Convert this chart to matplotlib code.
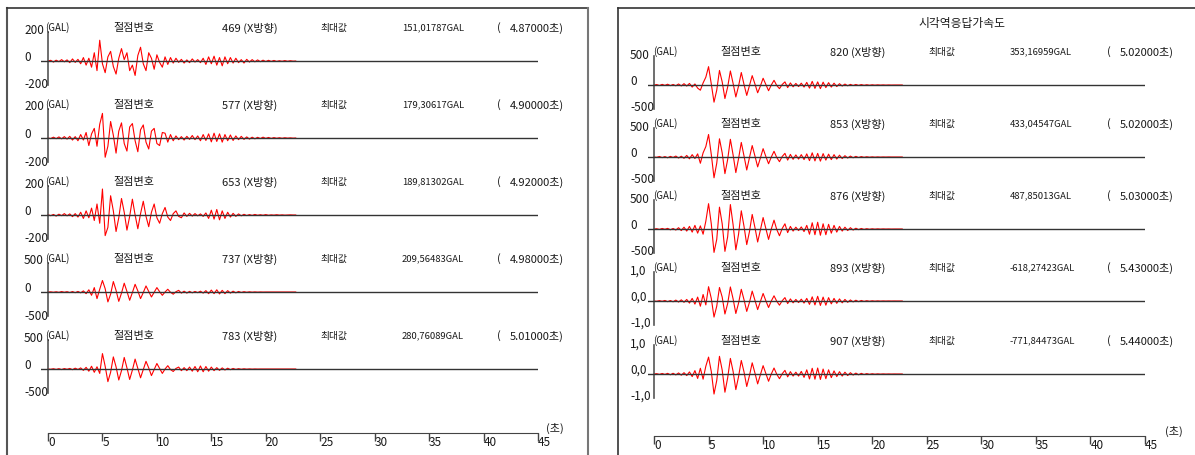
import numpy as np
import matplotlib
matplotlib.use('Agg')
import matplotlib.pyplot as plt
from matplotlib.transforms import blended_transform_factory, offset_copy
from matplotlib.lines import Line2D

plt.rcParams['font.family'] = ['Noto Sans CJK KR', 'DejaVu Sans']

W, H = 1195, 455
DT = 0.25  # sampling interval of the listed values (s)

# ---------------- data ----------------
time_ticks = [0, 5, 10, 15, 20, 25, 30, 35, 40, 45]
right_title = '시각역응답가속도'

left_nodes = ['469', '577', '653', '737', '783']
left_maxval = ['151,01787GAL', '179,30617GAL', '189,81302GAL', '209,56483GAL', '280,76089GAL']
left_maxtime = ['4.87000초)', '4.90000초)', '4.92000초)', '4.98000초)', '5.01000초)']
left_tick_vals = [[200, 0, -200], [200, 0, -200], [200, 0, -200], [500, 0, -500], [500, 0, -500]]
left_tick_labels = [['200', '0', '-200'], ['200', '0', '-200'], ['200', '0', '-200'],
                    ['500', '0', '-500'], ['500', '0', '-500']]

right_nodes = ['820', '853', '876', '893', '907']
right_maxval = ['353,16959GAL', '433,04547GAL', '487,85013GAL', '-618,27423GAL', '-771,84473GAL']
right_maxtime = ['5.02000초)', '5.02000초)', '5.03000초)', '5.43000초)', '5.44000초)']
right_tick_vals = [[500, 0, -500], [500, 0, -500], [500, 0, -500], [1000, 0, -1000], [1000, 0, -1000]]
right_tick_labels = [['500', '0', '-500'], ['500', '0', '-500'], ['500', '0', '-500'],
                     ['1,0', '0,0', '-1,0'], ['1,0', '0,0', '-1,0']]

# acceleration (GAL), every 0.25 s from 0 s
acc_469 = [0, 5, -8, 6, -5, 10, -6, 8, -12, 15, -10, 12,
           -20, 25, -30, 20, -45, 60, -70,
           151, -20, -85, 30, 70, -40, -95, 20, 90, 10, 60, -70, -30, -105, 40, 100, -20, -70, 60, 20,
           -60, 45, -10, -45, 30, -25, 25, -15, 20, -10,
           12, -15, 8, -12, 15, -8, 10, -12, 20, -25, 30, -20, 35, -30, 25, -35, 30, -20, 25, -15,
           20, -12, 10, -15, 12, -8, 10, -6, 8, -5, 6, -4, 5, -3, 4, -3, 2, -2, 3, -2, 2, -1, 0]
acc_577 = [0, -4, 6, -5, 8, -6, 10, -8, 12, -15, 10, -20,
           25, -15, 40, -55, 30, 70, -60,
           100, 179, -140, -60, 120, 20, -110, 50, 110, -40, -95, 80, 105, -20, -100, 60, 95, -30, -80, 50,
           70, -40, -55, 40, 35, -30, 25, -20, 15, -12,
           10, -15, 12, -10, 18, -12, 15, -20, 25, -18, 30, -28, 35, -25, 30, -30, 25, -20, 22, -18,
           15, -12, 12, -10, 8, -8, 6, -6, 5, -4, 6, -3, 4, -3, 3, -2, 2, -2, 2, -1, 1, -1, 0]
acc_653 = [2, -5, 4, -8, 6, -5, 10, -6, 8, -12, 10, -15,
           20, -25, 30, -20, 50, -40, 80,
           -60, 189, -150, -90, 140, 30, -120, -20, 120, 20, -110, -10, 115, 0, -100, 10, 100, -10, -85, 20,
           80, -20, -60, 10, 55, -15, -40, 10, 30, -10,
           -20, 15, -10, 12, -8, 10, -6, 8, -10, 15, -25, 35, -30, 40, -35, 30, -25, 20, -15, 12,
           -10, 8, -6, 5, -4, 3, -3, 4, -2, 2, -2, 3, -2, 1, -1, 2, -1, 1, -1, 0, 1, 0, 0]
acc_737 = [0, 3, -5, 4, -6, 8, -5, 6, -10, 8, -12, 10,
           -15, 20, -30, 40, -60, 80, -120,
           50, 209, 60, -180, -40, 190, 30, -170, -20, 160, 10, -150, -10, 140, 20, -120, -10, 110, 10, -90,
           -5, 80, 5, -60, 0, 50, -5, -40, 5, 30,
           -20, 15, -20, 12, -15, 10, -12, 15, -20, 25, -30, 35, -30, 40, -35, 30, -30, 25, -20, 15,
           -15, 10, -8, 6, -5, 4, -3, 2, -2, 1, -1, 0, 0, 0, 0, 0, 0, 0, 0, 0, 0, 0, 0]
acc_783 = [0, -5, 5, -8, 6, -10, 8, -6, 10, -12, 15, -10,
           20, -25, 30, -40, 50, -60, 40,
           -80, 280, 50, -230, -60, 220, 40, -200, -30, 210, 20, -190, -20, 180, 10, -160, -10, 140, 20, -120,
           -10, 100, 10, -80, 0, 60, -10, -45, 10, 35,
           -30, 25, -30, 35, -40, 45, -50, 55, -50, 45, -40, 35, -30, 25, -25, 20, -18, 15, -12, 10,
           -8, 6, -5, 4, -3, 2, -2, 1, -1, 0, 0, 0, 0, 0, 0, 0, 0, 0, 0, 0, 0, 0, 0]
acc_820 = [0, 8, -10, 12, -8, 15, -12, 10, -15, 20, -18, 25,
           -20, 30, -40, 20, -60, -100, 40,
           150, 353, 20, -330, -100, 280, 60, -260, -40, 270, 30, -230, -20, 240, 10, -200, -10, 180, 20, -150,
           -20, 130, 10, -110, 0, 90, -10, -70, 10, 60,
           -50, 40, -35, 30, -30, 35, -40, 50, -60, 70, -65, 60, -70, 55, -50, 45, -40, 35, -30, 25,
           -20, 18, -15, 12, -10, 10, -8, 8, -6, 5, -5, 4, -3, 3, -2, 2, -2, 1, -1, 0, 0, 0, 0]
acc_853 = [0, -6, 10, -12, 8, -15, 12, -10, 18, -20, 15, -25,
           30, -35, 45, -30, 60, -120, 80,
           200, 433, 50, -400, -120, 350, 80, -320, -50, 340, 40, -300, -30, 280, 20, -250, -10, 220, 20, -190,
           -20, 160, 10, -130, 0, 110, -10, -90, 10, 70,
           -60, 50, -45, 40, -40, 45, -50, 60, -70, 80, -75, 70, -80, 65, -60, 55, -50, 45, -40, 35,
           -30, 25, -20, 18, -15, 12, -10, 8, -6, 5, -4, 3, -3, 2, -2, 1, -1, 1, 0, 0, 0, 0, 0]
acc_876 = [0, 5, -8, 10, -6, 12, -15, 10, -20, 25, -30, 35,
           -40, 50, -60, 70, -80, 60, -100,
           150, 487, 100, -450, -200, 420, 100, -430, -150, 470, 80, -400, -100, 350, 50, -300, -50, 280, 30, -250,
           -20, 220, 10, -200, 0, 170, -10, -130, 10, 100,
           -70, 50, -40, 35, -30, 40, -50, 70, -100, 120, -110, 130, -120, 100, -110, 90, -80, 70, -60, 50,
           -40, 35, -30, 25, -20, 15, -12, 10, -8, 6, -5, 4, -3, 3, -2, 2, -1, 1, -1, 0, 0, 0, 0]
acc_893 = [0, -10, 15, -12, 20, -25, 18, -30, 35, -40, 45, -50,
           60, -80, 100, -120, 150, -200, 250,
           -150, 550, 100, -618, -200, 520, 150, -500, -100, 540, 80, -480, -80, 450, 50, -400, -50, 380, 30, -330,
           -20, 290, 10, -250, 0, 200, -10, -160, 10, 130,
           -100, 80, -70, 60, -60, 70, -80, 100, -130, 160, -150, 180, -170, 150, -160, 130, -110, 100, -90, 80,
           -70, 60, -50, 40, -35, 30, -25, 20, -15, 12, -10, 8, -6, 5, -4, 3, -2, 2, -1, 1, 0, 0, 0]
acc_907 = [0, 12, -15, 20, -18, 25, -30, 28, -35, 40, -45, 50,
           -60, 80, -100, 130, -170, 220, -200,
           300, 650, 100, -771, -250, 680, 150, -700, -150, 600, 100, -600, -100, 520, 80, -480, -60, 430, 40, -380,
           -30, 320, 20, -280, 0, 230, -10, -180, 10, 140,
           -110, 90, -80, 70, -80, 100, -130, 160, -190, 220, -200, 230, -210, 190, -180, 160, -140, 120, -100, 90,
           -80, 70, -60, 50, -40, 35, -30, 25, -20, 15, -12, 10, -8, 6, -5, 4, -3, 2, -2, 1, 0, 0, 0]

left_acc = [acc_469, acc_577, acc_653, acc_737, acc_783]
right_acc = [acc_820, acc_853, acc_876, acc_893, acc_907]

# ---------------- layout (pixels) ----------------
TXT = '#1a1a1a'
fig = plt.figure(figsize=(W / 100, H / 100), dpi=100)
fig.patch.set_facecolor('white')


def fx(x):
    return x / W


def fy(y):
    return 1 - y / H


def vline(x, y0, y1, **kw):
    fig.add_artist(Line2D([fx(x), fx(x)], [fy(y0), fy(y1)], transform=fig.transFigure, **kw))


def hline(y, x0, x1, **kw):
    fig.add_artist(Line2D([fx(x0), fx(x1)], [fy(y), fy(y)], transform=fig.transFigure, **kw))


# panel frames
vline(7, 8, 455, color='#555555', lw=1.5)
hline(8, 7, 588, color='#333333', lw=1.2)
vline(588, 8, 455, color='#777777', lw=1.5)
vline(618, 8, 455, color='#333333', lw=1.2)
hline(8, 618, 1195, color='#333333', lw=1.2)


def panel(p):
    x_t0, x_t45, x_start, zeros, ppus, accs, nodes, maxv, maxt, tvals, tlabs, hx = (
        p['x_t0'], p['x_t45'], p['x_start'], p['zeros'], p['ppu'], p['acc'], p['nodes'],
        p['maxv'], p['maxt'], p['tvals'], p['tlabs'], p['hx'])
    pps = (x_t45 - x_t0) / 45.0
    for k in range(5):
        z = zeros[k]
        ppu = ppus[k]
        ax = fig.add_axes([fx(x_start), fy(z + 30), (x_t45 - x_start) / W, 60 / H])
        ax.set_xlim((x_start - x_t0) / pps, 45)
        ax.set_ylim(-30 / ppu, 30 / ppu)
        ax.patch.set_visible(False)
        for s in ['top', 'right', 'bottom']:
            ax.spines[s].set_visible(False)
        ax.spines['left'].set_position(('data', 0))
        ax.spines['left'].set_bounds(-24 / ppu, 29 / ppu)
        ax.spines['left'].set_color('#555555')
        ax.spines['left'].set_linewidth(1.2)
        ax.set_xticks([])
        ax.set_yticks([])
        v = np.array(accs[k], dtype=float)
        t = np.arange(len(v)) * DT
        ax.plot(t, v, color='#ff0000', lw=0.8, zorder=2)
        ax.axhline(0, color='#333333', lw=1.0, zorder=3)
        trans = offset_copy(blended_transform_factory(fig.transFigure, ax.transData),
                            fig=fig, x=0, y=3.5, units='dots')
        for val, lab in zip(tvals[k], tlabs[k]):
            ax.text(fx(hx['tick']), val, lab, transform=trans, ha='left', va='center',
                    fontsize=8.5, color=TXT)
        hy = fy(z - 33)
        fig.text(fx(hx['gal']), hy, '(GAL)', fontsize=7, ha='left', va='center', color=TXT)
        fig.text(fx(hx['lbl']), hy, '절점변호', fontsize=8, ha='left', va='center', color=TXT)
        fig.text(fx(hx['node']), hy, nodes[k] + ' (X방향)', fontsize=8, ha='left', va='center', color=TXT)
        fig.text(fx(hx['max']), hy, '최대값', fontsize=7, ha='left', va='center', color=TXT)
        fig.text(fx(hx['val']), hy, maxv[k], fontsize=6.8, ha='left', va='center', color=TXT)
        fig.text(fx(hx['par']), hy, '(', fontsize=8, ha='left', va='center', color=TXT)
        fig.text(fx(hx['time']), hy, maxt[k], fontsize=8, ha='left', va='center', color=TXT)

    # time axis
    ay = p['axis_y']
    axb = fig.add_axes([fx(x_t0), fy(ay), (x_t45 - x_t0) / W, 2 / H])
    axb.set_xlim(0, 45)
    axb.patch.set_visible(False)
    for s in ['top', 'right', 'left']:
        axb.spines[s].set_visible(False)
    axb.spines['bottom'].set_color('#444444')
    axb.set_yticks([])
    axb.set_xticks(time_ticks)
    axb.set_xticklabels([str(v) for v in time_ticks])
    axb.tick_params(axis='x', direction='out', length=6, width=1, pad=-3.5,
                    labelsize=8.5, labelcolor=TXT, color='#444444')
    for lab in axb.get_xticklabels():
        lab.set_ha('left')
    fig.text(fx(p['unit_x']), fy(ay - 5), '(초)', fontsize=8, ha='left', va='center', color=TXT)


panel(dict(x_t0=48, x_t45=538, x_start=41, zeros=[61, 138, 215, 292, 369],
           ppu=[27.5 / 200] * 3 + [27.5 / 500] * 2, acc=left_acc, nodes=left_nodes,
           maxv=left_maxval, maxt=left_maxtime, tvals=left_tick_vals, tlabs=left_tick_labels,
           hx=dict(tick=24, gal=45, lbl=113, node=222, max=320, val=402, par=497, time=510),
           axis_y=433, unit_x=546))

panel(dict(x_t0=654, x_t45=1145, x_start=648, zeros=[85, 157, 229, 301, 374],
           ppu=[26 / 500] * 3 + [26 / 1000] * 2, acc=right_acc, nodes=right_nodes,
           maxv=right_maxval, maxt=right_maxtime, tvals=right_tick_vals, tlabs=right_tick_labels,
           hx=dict(tick=630, gal=653, lbl=720, node=830, max=928, val=1010, par=1107, time=1120),
           axis_y=436, unit_x=1165))

fig.text(fx(918), fy(23), right_title, fontsize=8.5, ha='left', va='center', color=TXT)

fig.savefig('out.png', dpi=100, facecolor='white')
